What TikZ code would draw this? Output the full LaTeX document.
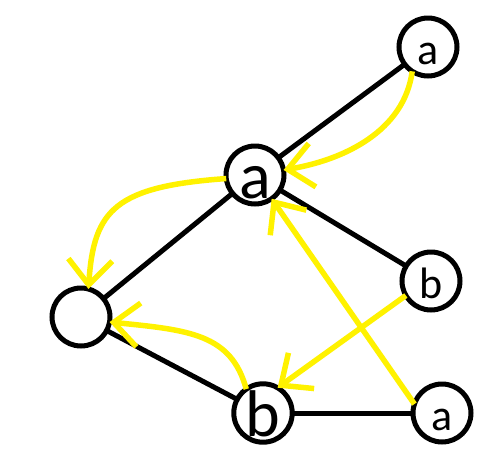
\documentclass[tikz,border=0pt]{standalone}
\usepackage{fontspec}
\newfontfamily\letterfont{Carlito}
\usetikzlibrary{positioning,arrows.meta}
\definecolor{hlyellow}{RGB}{255,242,0}

\begin{document}
\begin{tikzpicture}
[every node/.style={draw=black,line width=5pt,minimum size=58pt,inner sep=0pt,outer sep=0pt},
 var/.style={circle,font={\letterfont\fontsize{44}{44}\selectfont},text height=34pt,text depth=0pt},
 hand/.style={circle,font={\letterfont\fontsize{66}{66}\selectfont},text height=47pt,text depth=0pt},
 hl/.style={draw=hlyellow,line width=5.5pt,-{Straight Barb[length=25pt,width=44pt]}},
 line width=5pt]
\useasboundingbox (0pt,0pt) rectangle (496pt,-456pt);
\node[hand] (aMid) at (255pt,-175pt)                           {a};
\node[var]  (aTop) [on grid,above right=128pt and 173pt of aMid] {a};
\node[var]  (vL)   [on grid,below  left=142pt and 174pt of aMid] {};
\node[var]  (bR)   [on grid,below right=106pt and 176pt of aMid] {b};
\node[hand] (bBot) [on grid,below right=96pt and 182pt of vL]    {b};
\node[var]  (aBot) [on grid,right=179pt of bBot]                 {a};
\path (aTop) edge (aMid);
\path (aMid) edge (vL);
\path (aMid) edge (bR);
\path (vL)   edge (bBot);
\path (bBot) edge (aBot);

\draw[hl] (aTop.237) .. controls +(-8pt,-60pt) and +(60pt,10pt) .. (aMid.10);
\draw[hl] (aMid.187) .. controls +(-110pt,-8pt) and +(5pt,80pt) .. (vL.75);
\draw[hl] (bBot.125) .. controls +(-15pt,55pt) and +(80pt,-8pt) .. (vL.-10);
\draw[hl] (bR.210)  -- (bBot.60);
\draw[hl] (aBot.162) -- (aMid.-55);
\end{tikzpicture}
\end{document}
